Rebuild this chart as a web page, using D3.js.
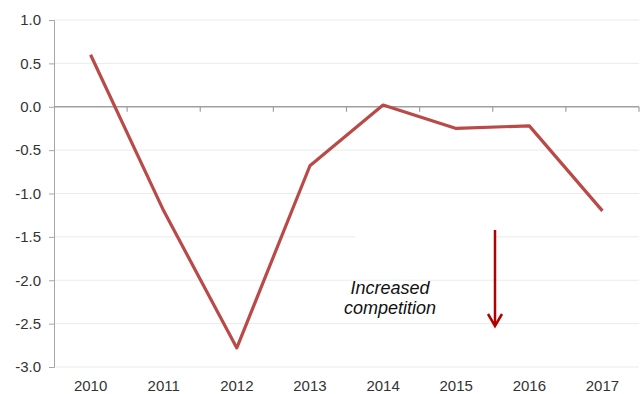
<!DOCTYPE html>
<html><head><meta charset="utf-8">
<script src="https://cdn.jsdelivr.net/npm/d3@7"></script>
<style>body{margin:0;background:#fff}svg{display:block}</style>
</head><body>
<svg id="c" width="641" height="394"></svg>
<script>
const years = ["2010","2011","2012","2013","2014","2015","2016","2017"];
const values = [0.6, -1.2, -2.78, -0.68, 0.02, -0.25, -0.22, -1.2];
const yTicks = [1.0, 0.5, 0.0, -0.5, -1.0, -1.5, -2.0, -2.5, -3.0];
const annotation = ["Increased", "competition"];

const svg = d3.select("#c");
const mLeft = 54, mRight = 639, mTop = 20, mBottom = 367;
const x = d3.scaleBand().domain(years).range([mLeft, mRight]);
const y = d3.scaleLinear().domain([-3, 1]).range([mBottom, mTop]);
const font = "Liberation Sans, Arial, sans-serif";

// gridlines
svg.append("g").selectAll("line").data(yTicks.filter(d => d !== 0)).join("line")
  .attr("x1", mLeft).attr("x2", mRight)
  .attr("y1", d => y(d)).attr("y2", d => y(d))
  .attr("stroke", "#ebebeb").attr("stroke-width", 1);

// white box behind annotation (hides part of gridline)
svg.append("rect").attr("x", 355).attr("y", y(-1.5) - 4).attr("width", 140).attr("height", 8).attr("fill", "#fff");

// y axis
const yAxis = d3.axisLeft(y).tickValues(yTicks).tickSize(5).tickPadding(8);
const gy = svg.append("g").attr("transform", `translate(${mLeft},0)`).call(yAxis);
gy.select(".domain").attr("stroke", "#a6a6a6");
gy.selectAll(".tick line").attr("stroke", "#a6a6a6");
gy.selectAll(".tick text").attr("font-family", font).attr("font-size", 15).attr("fill", "#333")
  .text(d => d3.format(".1f")(d).replace("−", "-"));

// zero axis with category ticks
const boundaries = years.map(d => x(d) + x.bandwidth());
svg.append("line").attr("x1", mLeft).attr("x2", mRight).attr("y1", y(0)).attr("y2", y(0))
  .attr("stroke", "#a0a0a0").attr("stroke-width", 1.5);
svg.append("g").selectAll("line").data(boundaries).join("line")
  .attr("x1", d => d).attr("x2", d => d).attr("y1", y(0)).attr("y2", y(0) + 5)
  .attr("stroke", "#a0a0a0").attr("stroke-width", 1.2);

// x labels
svg.append("g").selectAll("text").data(years).join("text")
  .attr("x", d => x(d) + x.bandwidth() / 2).attr("y", mBottom + 24)
  .attr("text-anchor", "middle").attr("font-family", font).attr("font-size", 15).attr("fill", "#333")
  .text(d => d);

// line
const line = d3.line().x((d, i) => x(years[i]) + x.bandwidth() / 2).y(d => y(d));
svg.append("path").datum(values).attr("d", line)
  .attr("fill", "none").attr("stroke", "#b94a48").attr("stroke-width", 3.2)
  .attr("stroke-linejoin", "round").attr("stroke-linecap", "butt");

// annotation text
svg.append("text").attr("x", 390).attr("y", 294).attr("text-anchor", "middle")
  .attr("font-family", font).attr("font-size", 18).attr("font-style", "italic").attr("fill", "#111")
  .text(annotation[0]);
svg.append("text").attr("x", 390).attr("y", 314).attr("text-anchor", "middle")
  .attr("font-family", font).attr("font-size", 18).attr("font-style", "italic").attr("fill", "#111")
  .text(annotation[1]);

// arrow
const ax = 495;
svg.append("line").attr("x1", ax).attr("x2", ax).attr("y1", 230).attr("y2", 325)
  .attr("stroke", "#b00000").attr("stroke-width", 2.5);
svg.append("path").attr("d", `M${ax-7},${314} L${ax},${326} L${ax+7},${314}`)
  .attr("fill", "none").attr("stroke", "#b00000").attr("stroke-width", 2.5);
</script>
</body></html>
